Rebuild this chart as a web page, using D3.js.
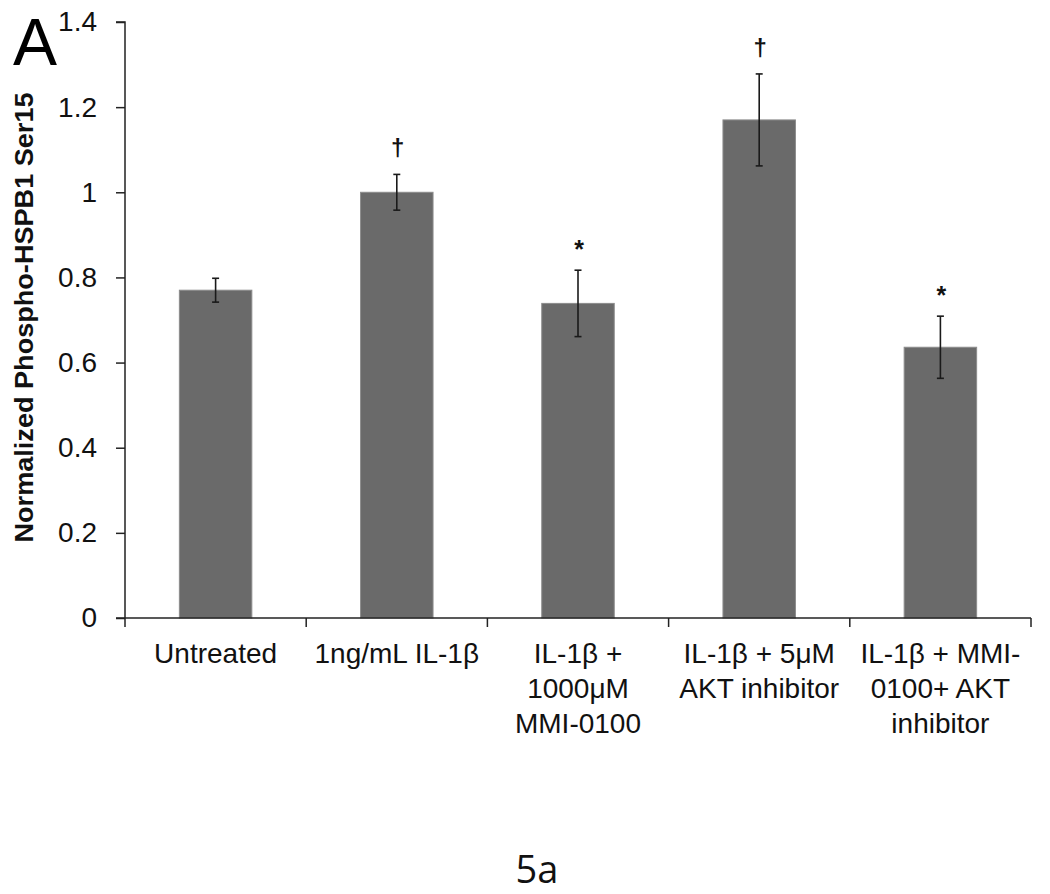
<!DOCTYPE html>
<html>
<head>
<meta charset="utf-8">
<script src="https://cdn.jsdelivr.net/npm/d3@7"></script>
<style>
  html, body { margin: 0; padding: 0; background: #fff; }
  svg { display: block; }
</style>
</head>
<body>
<svg id="chart" width="1050" height="894"></svg>
<script>
const categories = [
  ["Untreated"],
  ["1ng/mL IL-1β"],
  ["IL-1β +", "1000μM", "MMI-0100"],
  ["IL-1β + 5μM", "AKT inhibitor"],
  ["IL-1β + MMI-", "0100+ AKT", "inhibitor"]
];
const values = [0.77, 1.0, 0.739, 1.17, 0.636];
const errors = [0.028, 0.042, 0.078, 0.108, 0.073];
const markers = ["", "†", "*", "†", "*"];
const yTicks = [0, 0.2, 0.4, 0.6, 0.8, 1, 1.2, 1.4];
const yLabel = "Normalized Phospho-HSPB1 Ser15";
const panelLabel = "A";
const caption = "5a";

(function () {
const svg = d3.select("#chart");
const mLeft = 125, mRight = 1031, mTop = 22, mBottom = 618;

const x = d3.scaleBand().domain(d3.range(categories.length)).range([mLeft, mRight]).paddingInner(0.6).paddingOuter(0.3);
const xOuter = d3.scaleBand().domain(d3.range(categories.length)).range([mLeft, mRight]);
const y = d3.scaleLinear().domain([0, 1.4]).range([mBottom, mTop]);

const font = "'Liberation Sans', Arial, sans-serif";

// bars
svg.append("g").selectAll("rect").data(values).join("rect")
  .attr("x", (d, i) => x(i))
  .attr("y", d => y(d))
  .attr("width", x.bandwidth())
  .attr("height", d => y(0) - y(d))
  .attr("fill", "#6a6a6a")
  .attr("stroke", "#8c8c8c")
  .attr("stroke-width", 1);

// error bars
const eg = svg.append("g").attr("stroke", "#1a1a1a").attr("stroke-width", 1.6);
values.forEach((v, i) => {
  const cx = x(i) + x.bandwidth() / 2;
  const e = errors[i];
  eg.append("line").attr("x1", cx).attr("x2", cx).attr("y1", y(v + e)).attr("y2", y(v - e));
  eg.append("line").attr("x1", cx - 3.5).attr("x2", cx + 3.5).attr("y1", y(v + e)).attr("y2", y(v + e));
  eg.append("line").attr("x1", cx - 3.5).attr("x2", cx + 3.5).attr("y1", y(v - e)).attr("y2", y(v - e));
});

// significance markers
svg.append("g").selectAll("text").data(markers).join("text")
  .attr("x", (d, i) => x(i) + x.bandwidth() / 2 + 1)
  .attr("y", (d, i) => y(values[i] + errors[i]) - (d === "*" ? 12 : 18))
  .attr("text-anchor", "middle")
  .attr("font-family", font)
  .attr("font-weight", "bold")
  .attr("font-size", d => d === "*" ? 25 : 24)
  .attr("fill", "#111")
  .text(d => d);

// y axis
const yAxis = svg.append("g").attr("transform", `translate(${mLeft},0)`)
  .call(d3.axisLeft(y).tickValues(yTicks).tickSize(9).tickPadding(19).tickFormat(d3.format("")));
yAxis.select(".domain").attr("stroke", "#222").attr("stroke-width", 1.5).attr("d", `M-9,${mTop}H0V${mBottom}`);
yAxis.selectAll(".tick line").attr("stroke", "#222").attr("stroke-width", 1.5);
yAxis.selectAll(".tick text").attr("font-family", font).attr("font-size", 28).attr("fill", "#111");

// x axis
const xg = svg.append("g");
xg.append("line").attr("x1", mLeft - 9).attr("x2", mRight).attr("y1", mBottom).attr("y2", mBottom)
  .attr("stroke", "#222").attr("stroke-width", 1.5);
const boundaries = d3.range(categories.length + 1).map(i => i < categories.length ? xOuter(i) : mRight);
xg.selectAll("line.t").data(boundaries).join("line").attr("class", "t")
  .attr("x1", d => d).attr("x2", d => d).attr("y1", mBottom).attr("y2", mBottom + 9)
  .attr("stroke", "#222").attr("stroke-width", 1.5);

const lab = xg.selectAll("text").data(categories).join("text")
  .attr("text-anchor", "middle")
  .attr("font-family", font)
  .attr("font-size", 28)
  .attr("fill", "#111");
lab.each(function(lines, i) {
  const cx = xOuter(i) + xOuter.bandwidth() / 2;
  d3.select(this).selectAll("tspan").data(lines).join("tspan")
    .attr("x", cx)
    .attr("y", (d, j) => 663 + j * 35)
    .text(d => d);
});

// y label
svg.append("text")
  .attr("transform", `translate(33,${(92 + 543) / 2}) rotate(-90)`)
  .attr("text-anchor", "middle")
  .attr("font-family", font)
  .attr("font-weight", "bold")
  .attr("font-size", 26)
  .attr("textLength", 450)
  .attr("lengthAdjust", "spacingAndGlyphs")
  .attr("fill", "#111")
  .text(yLabel);

// panel label
svg.append("text")
  .attr("x", 13).attr("y", 65)
  .attr("font-family", font)
  .attr("font-size", 66)
  .attr("fill", "#000")
  .text(panelLabel);

// caption
svg.append("text")
  .attr("x", 537).attr("y", 883)
  .attr("text-anchor", "middle")
  .attr("font-family", "'Open Sans', 'Noto Sans', sans-serif")
  .attr("font-size", 38)
  .attr("fill", "#111")
  .text(caption);
})();
</script>
</body>
</html>
